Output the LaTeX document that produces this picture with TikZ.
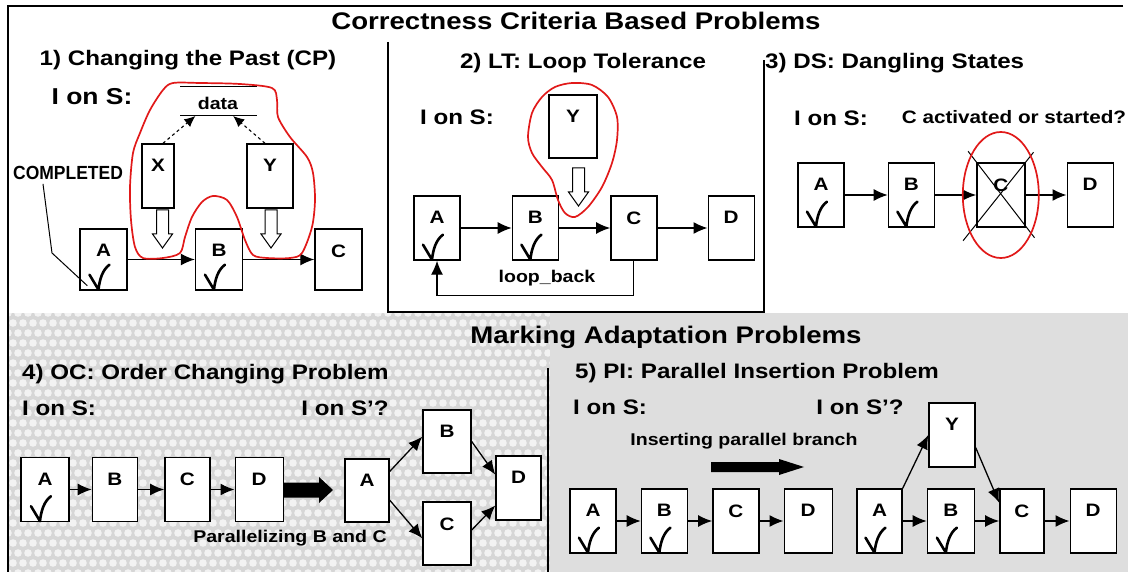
\documentclass[tikz,border=0pt]{standalone}
\usepackage{fontspec}
\setmainfont{Liberation Sans}[FakeStretch=1.15]
\usetikzlibrary{arrows.meta}
\usetikzlibrary{positioning}
\usetikzlibrary{calc}
\definecolor{markred}{RGB}{225,25,25}
\definecolor{panelgray}{RGB}{222,222,222}
\definecolor{dotgray}{RGB}{214,214,214}
\tikzset{
  % activity box, its letter sits near the top edge
  task/.style={
    draw = black,
    line width = 1.4pt,
    fill = white,
    inner sep = 0pt,
    minimum width = 46pt,
    minimum height = 64pt,
    label = {[tasklbl]north:#1}
  },
  tasklbl/.style={
    anchor = north,
    yshift = -15pt,
    inner sep = 1pt,
    font = \fontsize{18}{18}\selectfont\bfseries
  },
  % control flow between activities
  flow/.style={
    draw = black,
    line width = 1.3pt,
    -{Latex[length=14pt,width=12pt]}
  },
  % data written by an activity
  dataflow/.style={
    draw = black,
    line width = 1.1pt,
    dashed,
    -{Latex[length=11pt,width=10pt]}
  },
  leader/.style={draw = black, line width = 1pt},
  blob/.style={draw = markred, line width = 1.7pt},
  frame/.style={draw = black, line width = 1.6pt}
}
\tikzset{
  bigtitle/.style={inner sep = 0pt, font = \fontsize{24}{24}\selectfont\bfseries},
  subtitle/.style={inner sep = 0pt, font = \fontsize{21}{21}\selectfont\bfseries},
  ion/.style={inner sep = 0pt, font = \fontsize{21}{21}\selectfont\bfseries},
  small/.style={inner sep = 0pt, font = \fontsize{17}{17}\selectfont\bfseries},
  % the tick of a completed activity
  donemark/.pic={
    \draw[line width = 2.6pt, line cap = round, line join = round]
      (-10,-4) -- (-1,11) .. controls (0,1) and (3,-9) .. (10,-14);
  },
  % hollow arrow: the change goes in here
  pushdown/.pic={
    \draw[line width = 1pt, fill = white]
      (-6,0) -- (6,0) -- (6,24) -- (10,24) -- (0,38) -- (-10,24) -- (-6,24) -- cycle;
  },
  node distance = 24pt
}

\begin{document}
\begin{tikzpicture}[x=1pt, y=-1pt]
  \useasboundingbox (0,0) rectangle (1128,572);

  % backgrounds of the lower half
  \begin{scope}
    \clip (8,313) rectangle (550,572);
    \fill[dotgray] (8,313) rectangle (550,572);
    \foreach \col in {0,...,55}
      \foreach \row in {0,...,26}
        \fill[white, opacity=0.7] ({8+\col*10+mod(\row,2)*5},{313+\row*10}) circle (3.8pt);
  \end{scope}
  \fill[panelgray] (550,313) rectangle (1128,572);

  % frame lines
  \draw[frame] (1123,6) -- (8,6) -- (8,572);
  \draw[frame] (388,42) -- (388,312) -- (764,312) -- (764,60);
  \draw[frame] (548,368) -- (548,572);

  \node[bigtitle] (crit) at (576,21) {Correctness Criteria Based Problems};
  \node[bigtitle] (adapt) at (666,337) {Marking Adaptation Problems};

  % 1) changing the past
  \node[subtitle] (t1) at (188,60) {1) Changing the Past (CP)};
  \node[ion, font=\fontsize{23}{23}\selectfont\bfseries] (ion1) at (92,97) {I on S:};
  \coordinate (dtl) at (180,87);
  \coordinate (dtr) at (257,87);
  \coordinate (dbl) at (180,116);
  \coordinate (dbr) at (257,116);
  \draw[leader] (dtl) -- (dtr);
  \draw[leader] (dbl) -- (dbr);
  \node[small] (data) at (218,103) {data};
  \node[task=X, minimum width=32pt] (x1) at (158,176) {};
  \node[task=Y] (y1) at (270,176) {};
  \node[task=A, minimum width=47pt, minimum height=61pt] (a1) at (103.5,259.5) {};
  \node[task=B, minimum width=47pt, minimum height=61pt] (b1) at (219,259.5) {};
  \node[task=C, minimum width=47pt, minimum height=61pt] (c1) at (338.5,259.5) {};
  \pic at (162.5,210) {pushdown};
  \pic at (271,210) {pushdown};
  \pic at ([xshift=-4pt,yshift=12pt]a1.south) {donemark};
  \pic at ([xshift=-4pt,yshift=12pt]b1.south) {donemark};
  \draw[dataflow] ([xshift=5pt]x1.north) -- ($(dbl)!0.2!(dbr)$);
  \draw[dataflow] ([xshift=-5pt]y1.north) -- ($(dbl)!0.69!(dbr)$);
  \draw[flow] (a1) -- (b1);
  \draw[flow] (b1) -- (c1);
  \node[small, font=\fontsize{19}{19}\selectfont\bfseries\addfontfeatures{FakeStretch=0.92}] (completed) at (68,173) {COMPLETED};
  \coordinate (bend) at (52,253);
  \draw[leader] ([xshift=-25pt,yshift=-4pt]completed.south) -- (bend) -- ([xshift=8pt,yshift=5pt]a1.south west);
  \draw[blob] plot[smooth cycle] coordinates {
    (173,83) (200,83) (240,84) (272,88) (277,100) (278,117) (290,137) (307,157)
    (313,173) (315,200) (312,227) (302,253) (290,258) (267,258) (253,255) (245,240)
    (237,217) (227,200) (213,196) (202,202) (192,217) (185,237) (180,253) (163,258)
    (143,258) (135,247) (131,220) (130,187) (133,153) (140,133) (150,110) (163,90)};

  % 2) loop tolerance
  \node[subtitle] (t2) at (583,63) {2) LT: Loop Tolerance};
  \node[ion] (ion2) at (457,117) {I on S:};
  \node[task=Y, minimum width=48pt, minimum height=63pt] (y2) at (573,126.5) {};
  \pic at (578.5,168) {pushdown};
  \node[task=A] (a2) at (437,228) {};
  \node[task=B] (b2) [right=51pt of a2] {};
  \node[task=C] (c2) [right=51pt of b2] {};
  \node[task=D] (d2) [right=50pt of c2] {};
  \pic at ([xshift=-4pt,yshift=12pt]a2.south) {donemark};
  \pic at ([xshift=-4pt,yshift=12pt]b2.south) {donemark};
  \draw[flow] (a2) -- (b2);
  \draw[flow] (b2) -- (c2);
  \draw[flow] (c2) -- (d2);
  \draw[flow] (c2.south) -- ++(0,35) -| (a2.south);
  \node[small] (loopback) at (547,278) {loop\_back};
  \draw[blob] plot[smooth cycle] coordinates {
    (572,83) (592,85) (608,97) (617,117) (617,140) (612,163) (602,187) (588,207)
    (575,217) (565,213) (558,200) (552,180) (542,167) (532,153) (528,137) (532,113)
    (542,97) (555,87)};

  % 3) dangling states
  \node[subtitle, anchor=west] (t3) at (765,63) {3) DS: Dangling States};
  \node[ion] (ion3) at (831,118) {I on S:};
  \node[small, font=\fontsize{18}{18}\selectfont\bfseries] (ask3) at (1014,117) {C activated or started?};
  \node[task=A] (a3) at (821,195) {};
  \node[task=B] (b3) [right=43pt of a3] {};
  \node[task=C, minimum width=48pt] (c3) [right=41pt of b3] {};
  \node[task=D] (d3) [right=41pt of c3] {};
  \pic at ([xshift=-4pt,yshift=12pt]a3.south) {donemark};
  \pic at ([xshift=-4pt,yshift=12pt]b3.south) {donemark};
  \draw[flow] (a3) -- (b3);
  \draw[flow] (b3) -- (c3);
  \draw[flow] (c3) -- (d3);
  \draw[leader] ([shift={(-13,13)}]c3.south west) -- ([shift={(8,-10)}]c3.north east);
  \draw[leader] ([shift={(-8,-11)}]c3.north west) -- ([shift={(9,10)}]c3.south east);
  \draw[blob] (c3.center) ellipse [x radius=38, y radius=63];

  % 4) order changing
  \node[subtitle, anchor=west] (t4) at (22,374) {4) OC: Order Changing Problem};
  \node[ion, anchor=west] (ion4) at (22,408) {I on S:};
  \node[ion] (ion4b) at (345,408) {I on S’?};
  \node[task=A, minimum width=48pt] (a4) at (45,489.5) {};
  \node[task=B, minimum width=45pt] (b4) [right=22pt of a4] {};
  \node[task=C, minimum width=45pt] (c4) [right=26pt of b4] {};
  \node[task=D, minimum width=48pt] (d4) [right=24pt of c4] {};
  \pic at ([xshift=-4pt,yshift=12pt]a4.south) {donemark};
  \draw[flow] (a4) -- (b4);
  \draw[flow] (b4) -- (c4);
  \draw[flow] (c4) -- (d4);
  \fill (284,482.5) -- (319,482.5) -- (319,477) -- (333,490) -- (319,503) -- (319,497.5) -- (284,497.5) -- cycle;
  \node[task=A, minimum width=44pt, minimum height=63pt] (oa) at (367,490.5) {};
  \node[task=B, minimum width=48pt, minimum height=63pt] (ob) at (447,441.5) {};
  \node[task=C, minimum width=48pt, minimum height=63pt] (oc) at (447,533.5) {};
  \node[task=D, minimum width=45pt] (od) at (518.5,488) {};
  \draw[flow] (oa.40) -- (ob.169);
  \draw[flow] (oa.-23) -- (oc.-169);
  \draw[flow] (ob.east) -- (od.150);
  \draw[flow] (oc.8) -- (od.-143);
  \node[small] (par4) at (290,538) {Parallelizing B and C};

  % 5) parallel insertion
  \node[subtitle, anchor=west] (t5) at (575,373.5) {5) PI: Parallel Insertion Problem};
  \node[ion, anchor=west] (ion5) at (573,407) {I on S:};
  \node[ion] (ion5b) at (860,407) {I on S’?};
  \node[small] (ins5) at (744,441) {Inserting parallel branch};
  \fill (711,462) -- (779,462) -- (779,459) -- (804,467) -- (779,475) -- (779,472) -- (711,472) -- cycle;
  \node[task=A] (a5) at (593,521) {};
  \node[task=B] (b5) [right=24pt of a5] {};
  \node[task=C] (c5) [right=24pt of b5] {};
  \node[task=D, minimum width=48pt] (d5) [right=24pt of c5] {};
  \pic at ([xshift=-4pt,yshift=12pt]a5.south) {donemark};
  \pic at ([xshift=-4pt,yshift=12pt]b5.south) {donemark};
  \draw[flow] (a5) -- (b5);
  \draw[flow] (b5) -- (c5);
  \draw[flow] (c5) -- (d5);
  \node[task=A, minimum width=45pt] (pa) at (879.5,521) {};
  \node[task=B, minimum width=47pt] (pb) [right=24pt of pa] {};
  \node[task=C, minimum width=44pt] (pc) [right=24pt of pb] {};
  \node[task=D] (pd) [right=25pt of pc] {};
  \node[task=Y] (py) at (952,435) {};
  \pic at ([xshift=-4pt,yshift=12pt]pa.south) {donemark};
  \pic at ([xshift=-4pt,yshift=12pt]pb.south) {donemark};
  \draw[flow] (pa) -- (pb);
  \draw[flow] (pb) -- (pc);
  \draw[flow] (pc) -- (pd);
  \draw[flow] (pa.north east) -- (py.west);
  \draw[flow] (py.-28) -- (pc.141);
\end{tikzpicture}
\end{document}
